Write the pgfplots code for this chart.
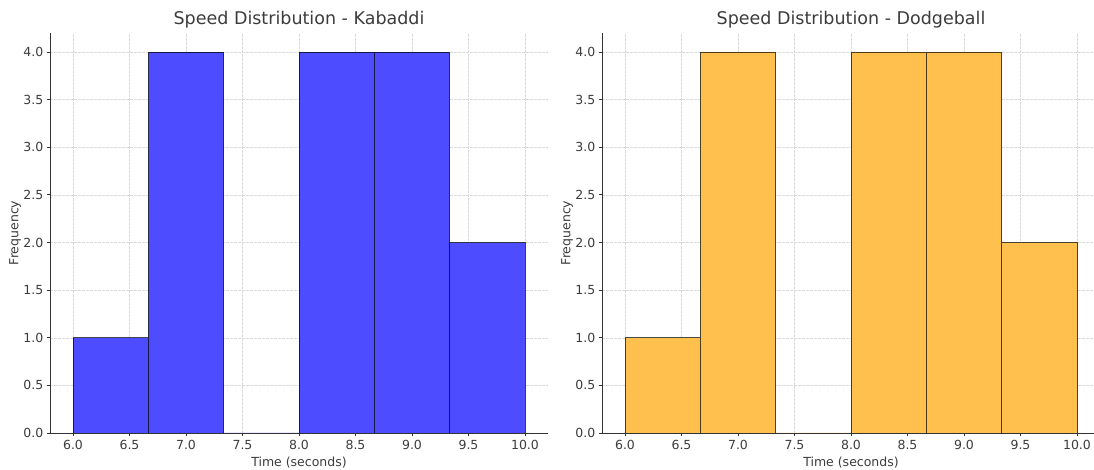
\documentclass[border=0pt]{standalone}
\usepackage{pgfplots}
\pgfplotsset{compat=1.18}
\usepackage{fontspec}
\setmainfont{DejaVu Sans}
\definecolor{txt}{RGB}{60,60,60}
\definecolor{kblue}{RGB}{77,77,255}
\definecolor{korange}{RGB}{255,192,77}
\pgfplotsset{
  hist/.style={
    scale only axis, width=497.2pt, height=400pt, anchor=south west,
    xmin=5.8, xmax=10.2, ymin=0, ymax=4.2,
    axis x line*=bottom, axis y line*=left,
    axis line style={line width=0.8pt, draw=black!80},
    xtick={6,6.5,...,10}, ytick={0,0.5,...,4},
    tick align=outside, major tick length=3.5pt,
    tick style={line width=0.8pt, draw=black!80},
    xticklabel style={/pgf/number format/.cd, fixed, fixed zerofill, precision=1},
    yticklabel style={/pgf/number format/.cd, fixed, fixed zerofill, precision=1},
    /pgf/number format/assume math mode=true,
    ticklabel style={font=\fontsize{12.5}{14}\selectfont, text=txt},
    grid=major, major grid style={dash pattern=on 2.5pt off 1.5pt, line width=0.5pt, draw=black!15},
    xlabel={Time (seconds)}, ylabel={Frequency},
    label style={font=\fontsize{12.5}{14}\selectfont, text=txt},
    xlabel style={at={(axis description cs:0.5,0)}, anchor=north, yshift=-20pt},
    ylabel style={at={(axis description cs:0,0.5)}, anchor=south, yshift=26pt},
    title style={font=\fontsize{17.5}{20}\selectfont, text=txt, yshift=-5pt},
  }
}
\begin{document}
\begin{tikzpicture}[x=1pt,y=1pt]
\begin{axis}[hist, at={(50.4pt,37pt)}, title={Speed Distribution - Kabaddi}]
\addplot[ybar interval, fill=kblue, draw=black, draw opacity=0.7, line width=0.6pt]
coordinates {(6,1) (6.6667,4) (7.3333,0) (8,4) (8.6667,4) (9.3333,2) (10,0)};
\end{axis}
\begin{axis}[hist, at={(602.4pt,37pt)}, title={Speed Distribution - Dodgeball}]
\addplot[ybar interval, fill=korange, draw=black, draw opacity=0.7, line width=0.6pt]
coordinates {(6,1) (6.6667,4) (7.3333,0) (8,4) (8.6667,4) (9.3333,2) (10,0)};
\end{axis}
\pgfresetboundingbox
\useasboundingbox (0,0) rectangle (1094pt,470pt);
\end{tikzpicture}
\end{document}
